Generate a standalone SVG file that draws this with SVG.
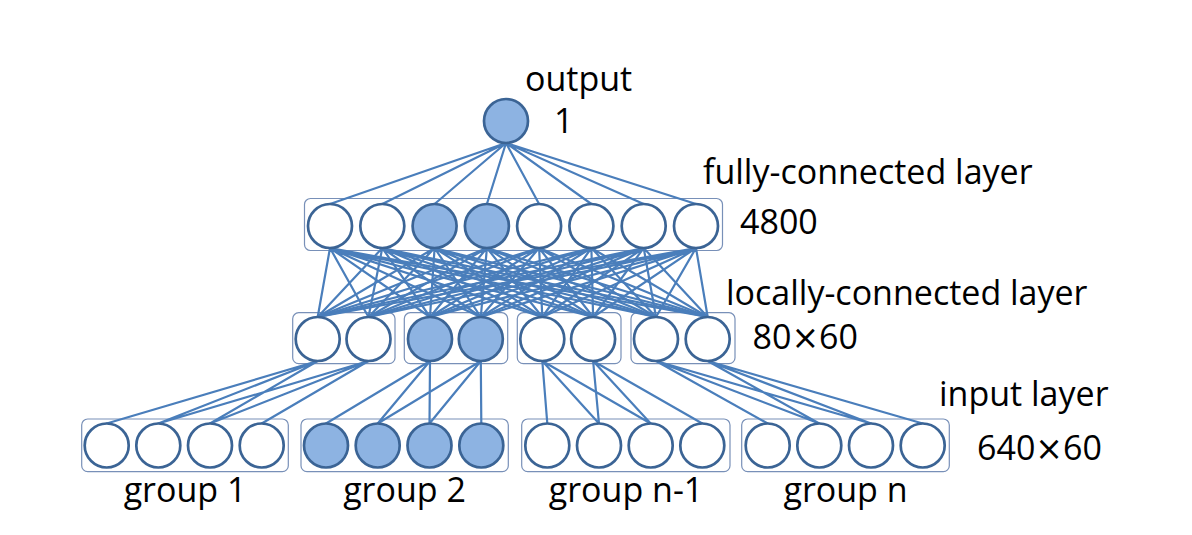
<svg xmlns="http://www.w3.org/2000/svg" width="1192" height="535" viewBox="0 0 1192 535">
<style>
.bg{fill:#ffffff}
.box{fill:none;stroke:#7890b8;stroke-width:1.2}
.conn{fill:none;stroke:#4a7ebb;stroke-width:2.2;stroke-linecap:round}
.n{fill:#ffffff;stroke:#3b6495;stroke-width:2.7}
.f{fill:#8db3e2;stroke:#3b6495;stroke-width:2.7}
.t{font-family:"Open Sans","Liberation Sans",sans-serif;font-size:34px;fill:#000000}
.x{font-family:"DejaVu Sans",sans-serif;font-size:33px}
.tm{text-anchor:middle}
</style>
<rect class="bg" x="0" y="0" width="1192" height="535"/>
<g id="layer-boxes">
<rect class="box" x="304.5" y="198.5" width="418" height="52" rx="6"/>
<rect class="box" x="292.7" y="312.7" width="102.3" height="51" rx="6"/>
<rect class="box" x="404.3" y="312.7" width="103.4" height="51" rx="6"/>
<rect class="box" x="517.3" y="312.7" width="103.7" height="51" rx="6"/>
<rect class="box" x="631" y="312.7" width="104" height="51" rx="6"/>
<rect class="box" x="81.7" y="419" width="206.6" height="52.7" rx="6"/>
<rect class="box" x="301" y="419" width="207.3" height="52.7" rx="6"/>
<rect class="box" x="521.7" y="419" width="208.3" height="52.7" rx="6"/>
<rect class="box" x="741.7" y="419" width="207.6" height="52.7" rx="6"/>
</g>
<g id="connectors">
<path class="conn" d="M506 143 L330 204 M506 143 L382.3 204 M506 143 L434.6 204 M506 143 L486.9 204 M506 143 L539.1 204 M506 143 L591.4 204 M506 143 L643.7 204 M506 143 L696 204"/>
<path class="conn" d="M330 248 L317.7 317 M330 248 L368.5 317 M330 248 L430 317 M330 248 L480.8 317 M330 248 L542.3 317 M330 248 L593.1 317 M330 248 L656 317 M330 248 L707.7 317"/>
<path class="conn" d="M382.3 248 L317.7 317 M382.3 248 L368.5 317 M382.3 248 L430 317 M382.3 248 L480.8 317 M382.3 248 L542.3 317 M382.3 248 L593.1 317 M382.3 248 L656 317 M382.3 248 L707.7 317"/>
<path class="conn" d="M434.6 248 L317.7 317 M434.6 248 L368.5 317 M434.6 248 L430 317 M434.6 248 L480.8 317 M434.6 248 L542.3 317 M434.6 248 L593.1 317 M434.6 248 L656 317 M434.6 248 L707.7 317"/>
<path class="conn" d="M486.9 248 L317.7 317 M486.9 248 L368.5 317 M486.9 248 L430 317 M486.9 248 L480.8 317 M486.9 248 L542.3 317 M486.9 248 L593.1 317 M486.9 248 L656 317 M486.9 248 L707.7 317"/>
<path class="conn" d="M539.1 248 L317.7 317 M539.1 248 L368.5 317 M539.1 248 L430 317 M539.1 248 L480.8 317 M539.1 248 L542.3 317 M539.1 248 L593.1 317 M539.1 248 L656 317 M539.1 248 L707.7 317"/>
<path class="conn" d="M591.4 248 L317.7 317 M591.4 248 L368.5 317 M591.4 248 L430 317 M591.4 248 L480.8 317 M591.4 248 L542.3 317 M591.4 248 L593.1 317 M591.4 248 L656 317 M591.4 248 L707.7 317"/>
<path class="conn" d="M643.7 248 L317.7 317 M643.7 248 L368.5 317 M643.7 248 L430 317 M643.7 248 L480.8 317 M643.7 248 L542.3 317 M643.7 248 L593.1 317 M643.7 248 L656 317 M643.7 248 L707.7 317"/>
<path class="conn" d="M696 248 L317.7 317 M696 248 L368.5 317 M696 248 L430 317 M696 248 L480.8 317 M696 248 L542.3 317 M696 248 L593.1 317 M696 248 L656 317 M696 248 L707.7 317"/>
<path class="conn" d="M317.7 361 L106.7 423.5 M317.7 361 L158.3 423.5 M317.7 361 L210 423.5 M368.5 361 L158.3 423.5 M368.5 361 L210 423.5 M368.5 361 L261.7 423.5"/>
<path class="conn" d="M430 361 L326 423.5 M430 361 L377.7 423.5 M430 361 L429.5 423.5 M480.8 361 L377.7 423.5 M480.8 361 L429.5 423.5 M480.8 361 L481.3 423.5"/>
<path class="conn" d="M542.3 361 L547.3 423.5 M542.3 361 L599 423.5 M542.3 361 L650.7 423.5 M593.1 361 L599 423.5 M593.1 361 L650.7 423.5 M593.1 361 L702.3 423.5"/>
<path class="conn" d="M656 361 L767.7 423.5 M656 361 L819.3 423.5 M656 361 L871 423.5 M707.7 361 L819.3 423.5 M707.7 361 L871 423.5 M707.7 361 L922.7 423.5"/>
</g>
<g id="output-node"><circle class="f" cx="506" cy="121" r="22"/></g>
<g id="fc-1"><circle class="n" cx="330" cy="226" r="22"/></g>
<g id="fc-2"><circle class="n" cx="382.3" cy="226" r="22"/></g>
<g id="fc-3"><circle class="f" cx="434.6" cy="226" r="22"/></g>
<g id="fc-4"><circle class="f" cx="486.9" cy="226" r="22"/></g>
<g id="fc-5"><circle class="n" cx="539.1" cy="226" r="22"/></g>
<g id="fc-6"><circle class="n" cx="591.4" cy="226" r="22"/></g>
<g id="fc-7"><circle class="n" cx="643.7" cy="226" r="22"/></g>
<g id="fc-8"><circle class="n" cx="696" cy="226" r="22"/></g>
<g id="lc-1"><circle class="n" cx="317.7" cy="339" r="22"/></g>
<g id="lc-2"><circle class="n" cx="368.5" cy="339" r="22"/></g>
<g id="lc-3"><circle class="f" cx="430" cy="339" r="22"/></g>
<g id="lc-4"><circle class="f" cx="480.8" cy="339" r="22"/></g>
<g id="lc-5"><circle class="n" cx="542.3" cy="339" r="22"/></g>
<g id="lc-6"><circle class="n" cx="593.1" cy="339" r="22"/></g>
<g id="lc-7"><circle class="n" cx="656" cy="339" r="22"/></g>
<g id="lc-8"><circle class="n" cx="707.7" cy="339" r="22"/></g>
<g id="in-1-1"><circle class="n" cx="106.7" cy="445.5" r="22"/></g>
<g id="in-1-2"><circle class="n" cx="158.3" cy="445.5" r="22"/></g>
<g id="in-1-3"><circle class="n" cx="210" cy="445.5" r="22"/></g>
<g id="in-1-4"><circle class="n" cx="261.7" cy="445.5" r="22"/></g>
<g id="in-2-1"><circle class="f" cx="326" cy="445.5" r="22"/></g>
<g id="in-2-2"><circle class="f" cx="377.7" cy="445.5" r="22"/></g>
<g id="in-2-3"><circle class="f" cx="429.5" cy="445.5" r="22"/></g>
<g id="in-2-4"><circle class="f" cx="481.3" cy="445.5" r="22"/></g>
<g id="in-3-1"><circle class="n" cx="547.3" cy="445.5" r="22"/></g>
<g id="in-3-2"><circle class="n" cx="599" cy="445.5" r="22"/></g>
<g id="in-3-3"><circle class="n" cx="650.7" cy="445.5" r="22"/></g>
<g id="in-3-4"><circle class="n" cx="702.3" cy="445.5" r="22"/></g>
<g id="in-4-1"><circle class="n" cx="767.7" cy="445.5" r="22"/></g>
<g id="in-4-2"><circle class="n" cx="819.3" cy="445.5" r="22"/></g>
<g id="in-4-3"><circle class="n" cx="871" cy="445.5" r="22"/></g>
<g id="in-4-4"><circle class="n" cx="922.7" cy="445.5" r="22"/></g>
<g id="labels">
<text class="t" x="525" y="91">output</text>
<text class="t" x="554" y="133">1</text>
<text class="t" x="703" y="184">fully-connected layer</text>
<text class="t" x="740" y="234">4800</text>
<text class="t" x="726" y="305">locally-connected layer</text>
<text class="t" x="752.5" y="349">80<tspan class="x">×</tspan>60</text>
<text class="t" x="939" y="406">input layer</text>
<text class="t" x="977" y="460">640<tspan class="x">×</tspan>60</text>
<text class="t tm" x="185" y="502">group 1</text>
<text class="t tm" x="404.5" y="502">group 2</text>
<text class="t tm" x="626" y="502">group n-1</text>
<text class="t tm" x="845.5" y="502">group n</text>
</g>
</svg>
